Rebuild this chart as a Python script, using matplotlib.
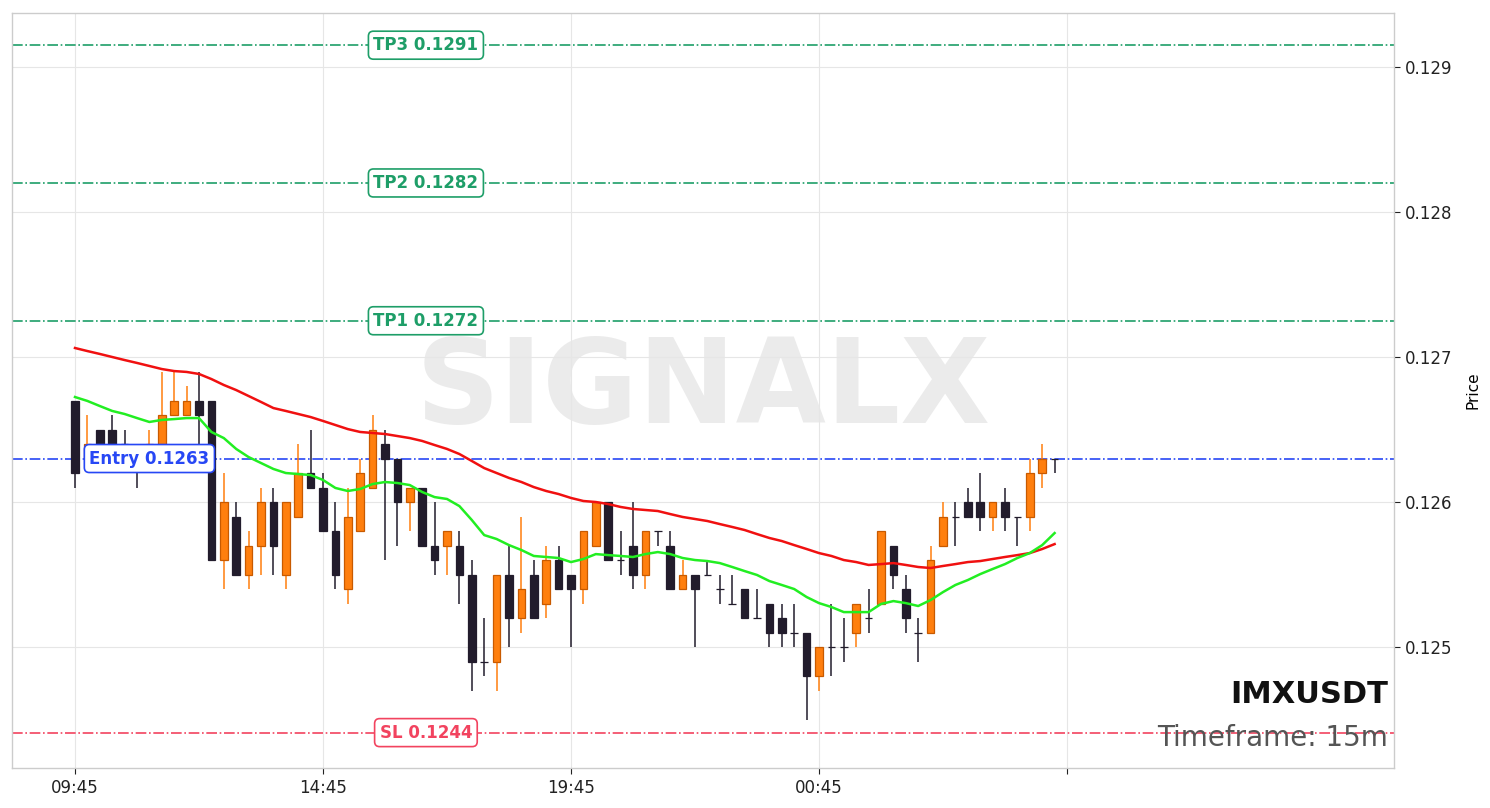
import numpy as np
import matplotlib
matplotlib.use("Agg")
import matplotlib.pyplot as plt

# ============================================
# Data (15m candles, IMXUSDT)
opens = [0.1267, 0.1263, 0.1265, 0.1265, 0.1264, 0.1263, 0.1263, 0.1264, 0.1266, 0.1266,
         0.1267, 0.1267, 0.1256, 0.1259, 0.1255, 0.1257, 0.1260, 0.1255, 0.1259, 0.1262,
         0.1261, 0.1258, 0.1254, 0.1258, 0.1261, 0.1264, 0.1263, 0.1260, 0.1261, 0.1257,
         0.1257, 0.1257, 0.1255, 0.1249, 0.1249, 0.1255, 0.1252, 0.1255, 0.1253, 0.1256,
         0.1255, 0.1254, 0.1257, 0.1260, 0.1256, 0.1257, 0.1255, 0.1258, 0.1257, 0.1254,
         0.1255, 0.1255, 0.1254, 0.1253, 0.1254, 0.1252, 0.1253, 0.1252, 0.1251, 0.1251,
         0.1248, 0.1250, 0.1250, 0.1251, 0.1252, 0.1253, 0.1257, 0.1254, 0.1251, 0.1251,
         0.1257, 0.1259, 0.1260, 0.1260, 0.1259, 0.1260, 0.1259, 0.1259, 0.1262, 0.1263]
highs = [0.1267, 0.1266, 0.1265, 0.1266, 0.1265, 0.1264, 0.1265, 0.1269, 0.1269, 0.1268,
         0.1269, 0.1267, 0.1262, 0.1260, 0.1258, 0.1261, 0.1261, 0.1260, 0.1264, 0.1265,
         0.1262, 0.1260, 0.1261, 0.1263, 0.1266, 0.1265, 0.1263, 0.1261, 0.1261, 0.1260,
         0.1258, 0.1258, 0.1256, 0.1252, 0.1255, 0.1257, 0.1259, 0.1256, 0.1257, 0.1257,
         0.1255, 0.1258, 0.1260, 0.1260, 0.1258, 0.1260, 0.1258, 0.1258, 0.1258, 0.1256,
         0.1255, 0.1256, 0.1255, 0.1255, 0.1254, 0.1254, 0.1253, 0.1253, 0.1253, 0.1251,
         0.1250, 0.1253, 0.1252, 0.1253, 0.1254, 0.1258, 0.1257, 0.1255, 0.1252, 0.1257,
         0.1260, 0.1260, 0.1261, 0.1262, 0.1260, 0.1261, 0.1259, 0.1263, 0.1264, 0.1263]
lows = [0.1261, 0.1263, 0.1263, 0.1262, 0.1263, 0.1261, 0.1263, 0.1264, 0.1266, 0.1266,
        0.1263, 0.1256, 0.1254, 0.1255, 0.1254, 0.1255, 0.1255, 0.1254, 0.1259, 0.1261,
        0.1258, 0.1254, 0.1253, 0.1258, 0.1261, 0.1256, 0.1257, 0.1258, 0.1257, 0.1255,
        0.1255, 0.1253, 0.1247, 0.1248, 0.1247, 0.1250, 0.1251, 0.1252, 0.1252, 0.1254,
        0.1250, 0.1253, 0.1257, 0.1256, 0.1255, 0.1254, 0.1254, 0.1257, 0.1254, 0.1254,
        0.1250, 0.1255, 0.1253, 0.1253, 0.1252, 0.1252, 0.1250, 0.1250, 0.1250, 0.1245,
        0.1247, 0.1248, 0.1249, 0.1250, 0.1251, 0.1253, 0.1254, 0.1251, 0.1249, 0.1251,
        0.1257, 0.1257, 0.1259, 0.1258, 0.1258, 0.1258, 0.1257, 0.1258, 0.1261, 0.1262]
closes = [0.1262, 0.1264, 0.1263, 0.1263, 0.1264, 0.1263, 0.1264, 0.1266, 0.1267, 0.1267,
          0.1266, 0.1256, 0.1260, 0.1255, 0.1257, 0.1260, 0.1257, 0.1260, 0.1262, 0.1261,
          0.1258, 0.1255, 0.1259, 0.1262, 0.1265, 0.1263, 0.1260, 0.1261, 0.1257, 0.1256,
          0.1258, 0.1255, 0.1249, 0.1249, 0.1255, 0.1252, 0.1254, 0.1252, 0.1256, 0.1254,
          0.1254, 0.1258, 0.1260, 0.1256, 0.1256, 0.1255, 0.1258, 0.1258, 0.1254, 0.1255,
          0.1254, 0.1255, 0.1254, 0.1253, 0.1252, 0.1252, 0.1251, 0.1251, 0.1251, 0.1248,
          0.1250, 0.1250, 0.1250, 0.1253, 0.1252, 0.1258, 0.1255, 0.1252, 0.1251, 0.1256,
          0.1259, 0.1259, 0.1259, 0.1259, 0.1260, 0.1259, 0.1259, 0.1262, 0.1263, 0.1263]

ema_slow = [0.127062, 0.127041, 0.127021, 0.127000, 0.126979, 0.126959, 0.126938, 0.126917, 0.126903, 0.126897,
            0.126883, 0.126848, 0.126807, 0.126772, 0.126731, 0.126690, 0.126648, 0.126628, 0.126607, 0.126586,
            0.126559, 0.126531, 0.126503, 0.126483, 0.126476, 0.126469, 0.126455, 0.126441, 0.126421, 0.126393,
            0.126366, 0.126331, 0.126283, 0.126234, 0.126200, 0.126166, 0.126138, 0.126103, 0.126076, 0.126055,
            0.126028, 0.126007, 0.126000, 0.125986, 0.125966, 0.125952, 0.125945, 0.125938, 0.125917, 0.125897,
            0.125883, 0.125869, 0.125848, 0.125828, 0.125807, 0.125779, 0.125752, 0.125731, 0.125703, 0.125676,
            0.125648, 0.125628, 0.125600, 0.125586, 0.125566, 0.125572, 0.125579, 0.125566, 0.125552, 0.125545,
            0.125559, 0.125572, 0.125586, 0.125593, 0.125607, 0.125621, 0.125634, 0.125648, 0.125676, 0.125710]
ema_fast = [0.126724, 0.126697, 0.126662, 0.126628, 0.126607, 0.126579, 0.126552, 0.126566, 0.126572, 0.126579,
            0.126579, 0.126483, 0.126441, 0.126366, 0.126310, 0.126269, 0.126228, 0.126200, 0.126193, 0.126186,
            0.126152, 0.126097, 0.126076, 0.126090, 0.126124, 0.126138, 0.126131, 0.126117, 0.126069, 0.126034,
            0.126021, 0.125972, 0.125876, 0.125772, 0.125745, 0.125703, 0.125669, 0.125628, 0.125621, 0.125614,
            0.125586, 0.125607, 0.125641, 0.125634, 0.125628, 0.125621, 0.125641, 0.125655, 0.125641, 0.125614,
            0.125600, 0.125593, 0.125579, 0.125552, 0.125524, 0.125497, 0.125455, 0.125428, 0.125400, 0.125345,
            0.125303, 0.125276, 0.125241, 0.125241, 0.125241, 0.125297, 0.125317, 0.125303, 0.125283, 0.125324,
            0.125379, 0.125428, 0.125462, 0.125503, 0.125538, 0.125572, 0.125614, 0.125648, 0.125703, 0.125786]

tick_pos = [0, 20, 40, 60, 80]
tick_labels = ["09:45", "14:45", "19:45", "00:45", ""]

level_names = ["TP3", "TP2", "TP1", "Entry", "SL"]
level_values = [0.12915, 0.12820, 0.12725, 0.12630, 0.12441]
level_texts = ["TP3 0.1291", "TP2 0.1282", "TP1 0.1272", "Entry 0.1263", "SL 0.1244"]

symbol = "IMXUSDT"
timeframe = "15m"
# ============================================

COL_UP = "#ff7f0e"
COL_UP_EDGE = "#c85a00"
COL_DN = "#221c2c"
COL_TP = "#1e9e68"
COL_ENTRY = "#2747f5"
COL_SL = "#f2435f"

fig = plt.figure(figsize=(14.9, 8.08), dpi=100)
ax = fig.add_axes([12 / 1490, 40 / 808, 1382 / 1490, 755 / 808])

x = np.arange(len(opens))
o = np.array(opens)
h = np.array(highs)
l = np.array(lows)
c = np.array(closes)
up = c > o  # dojis drawn dark

# wicks
ax.vlines(x[up], l[up], h[up], color=COL_UP, linewidth=1.1, zorder=2)
ax.vlines(x[~up], l[~up], h[~up], color=COL_DN, linewidth=1.1, zorder=2)
# bodies
ax.bar(x[up], (c - o)[up], bottom=o[up], width=0.6, color=COL_UP,
       edgecolor=COL_UP_EDGE, linewidth=0.9, zorder=3)
ax.bar(x[~up], (o - c)[~up], bottom=c[~up], width=0.6, color=COL_DN,
       edgecolor=COL_DN, linewidth=0.9, zorder=3)

# moving averages
ax.plot(x, ema_slow, color="#f01010", linewidth=1.8, zorder=4)
ax.plot(x, ema_fast, color="#22ee22", linewidth=1.8, zorder=4)

# trade levels
level_colors = [COL_TP, COL_TP, COL_TP, COL_ENTRY, COL_SL]
label_x = [28.3, 28.3, 28.3, 6.0, 28.3]
for name, val, txt, col, lx in zip(level_names, level_values, level_texts, level_colors, label_x):
    ax.axhline(val, color=col, linestyle="-.", linewidth=1.2, zorder=1)
    ax.text(lx, val, txt, color=col, fontsize=12, fontweight="bold",
            ha="center", va="center", zorder=6,
            bbox=dict(boxstyle="round,pad=0.3", facecolor="white", edgecolor=col, linewidth=1.2))

# watermark
ax.text(0.5, 0.5, "SIGNALX", transform=ax.transAxes, fontsize=84, fontweight="bold",
        color="#b0b0b0", alpha=0.25, ha="center", va="center", zorder=0)

# symbol / timeframe
ax.text(0.9955, 0.097, symbol, transform=ax.transAxes, fontsize=22, fontweight="bold",
        color="#111111", ha="right", va="center", zorder=6)
ax.text(0.9955, 0.04, "Timeframe: " + timeframe, transform=ax.transAxes, fontsize=20,
        color="#555555", ha="right", va="center", zorder=6)

ax.set_xlim(-5.08, 106.37)
ax.set_ylim(0.124166, 0.129372)
ax.set_xticks(tick_pos)
ax.set_xticklabels(tick_labels)
ax.set_yticks([0.125, 0.126, 0.127, 0.128, 0.129])
ax.set_yticklabels(["0.125", "0.126", "0.127", "0.128", "0.129"])
ax.yaxis.tick_right()
ax.yaxis.set_label_position("right")
ax.set_ylabel("Price", fontsize=11, labelpad=10)
ax.tick_params(axis="both", labelsize=12, length=4, width=0.8, colors="#222222")
ax.tick_params(axis="x", pad=4)
ax.grid(True, color="#e6e6e6", linewidth=0.8, zorder=0)
ax.set_axisbelow(True)
for sp in ax.spines.values():
    sp.set_color("#cccccc")
    sp.set_linewidth(1.0)

fig.savefig("out.png", dpi=100, facecolor="white")
